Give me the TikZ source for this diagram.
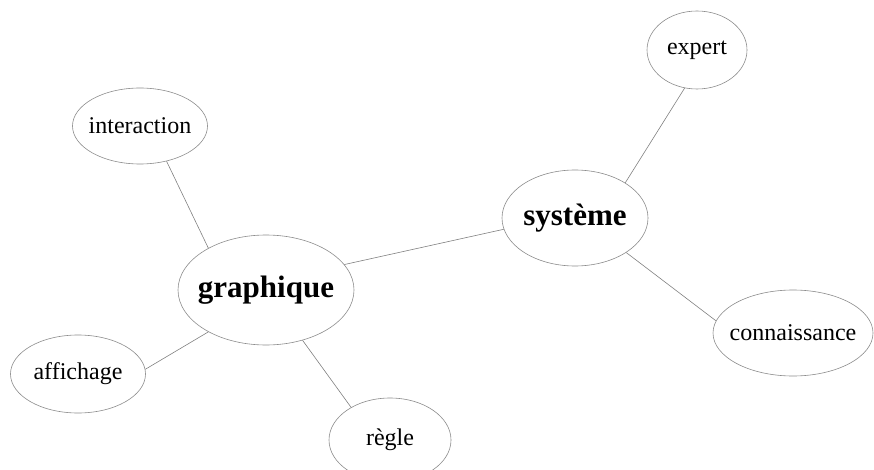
\documentclass[tikz,border=0pt]{standalone}
\usepackage{fontspec}
\setmainfont{Liberation Serif}
\usetikzlibrary{shapes.geometric}
\begin{document}
\begin{tikzpicture}[x=1pt,y=-1pt,
  bub/.style={ellipse,draw=black!45,line width=0.6pt,inner sep=0pt,fill=white},
  small/.style={font=\fontsize{24}{26}\selectfont,inner sep=0pt},
  big/.style={font=\fontsize{31}{33}\selectfont\bfseries,inner sep=0pt},
  link/.style={draw=black!50,line width=0.6pt}]
\useasboundingbox (0,0) rectangle (874,470);
\node[bub,minimum width=135,minimum height=76] (inter) at (140,126) {};
\node[bub,minimum width=176,minimum height=110] (graph) at (266,290) {};
\node[bub,minimum width=146,minimum height=96] (sys) at (575,218) {};
\node[bub,minimum width=100,minimum height=78] (exp) at (697,50) {};
\node[bub,minimum width=160,minimum height=86] (conn) at (793,333) {};
\node[bub,minimum width=135,minimum height=78] (aff) at (78,374) {};
\node[bub,minimum width=122,minimum height=84] (regle) at (390,440) {};
\node[small] (tinter) at (inter) {interaction};
\node[big] (tgraph) at (graph) {graphique};
\node[big] (tsys) at (sys) {système};
\node[small] (texp) at (exp) {expert};
\node[small] (tconn) at (conn) {connaissance};
\node[small] (taff) at (aff) {affichage};
\node[small] (tregle) at (regle) {règle};
\draw[link] (inter.-53) -- (graph.144);
\draw[link] (graph.18) -- (sys.-171);
\draw[link] (sys.35) -- (exp.-108);
\draw[link] (sys.-34) -- (conn.171);
\draw[link] (graph.-144) -- (aff.4);
\draw[link] (graph.-54) -- (regle.140);
\end{tikzpicture}
\end{document}
